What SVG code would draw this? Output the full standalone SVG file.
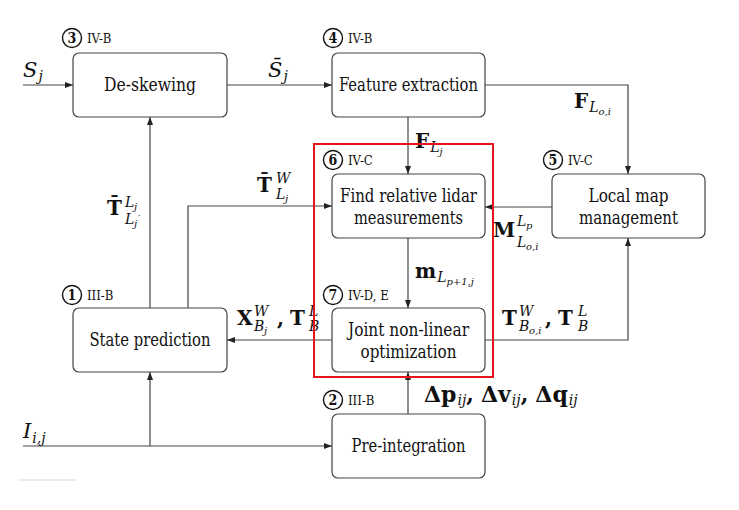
<svg xmlns="http://www.w3.org/2000/svg" width="739" height="510" viewBox="0 0 739 510">
<defs>
<marker id="ah" viewBox="0 0 8 6" refX="8" refY="3" markerWidth="8" markerHeight="6" markerUnits="userSpaceOnUse" orient="auto">
<path d="M0,0 L8,3 L0,6 Z" fill="#222"/>
</marker>
<style>
text{font-family:'DejaVu Serif Condensed','DejaVu Serif',serif;font-stretch:condensed;fill:#111}
.box{fill:#fff;stroke:#444;stroke-width:1.2}
.bt{font-size:18px;text-anchor:middle}
.num{fill:none;stroke:#111;stroke-width:1.4}
.nt{font-size:14px;font-weight:bold;text-anchor:middle}
.sec{font-size:13px}
.c{fill:none;stroke:#444;stroke-width:1.2}
.m,.mi{font-family:'DejaVu Serif',serif;font-stretch:normal}
.m{font-size:20px;font-weight:bold}
.mi{font-size:21px;font-style:italic}
.d{font-size:22px}
.s{font-size:14px;font-style:italic;font-weight:normal}
.ss{font-size:10px;font-style:italic;font-weight:normal}
</style>
</defs>
<rect width="739" height="510" fill="#fff"/>

<g id="connectors">
<path class="c" d="M23,85 H73" marker-end="url(#ah)"/>
<path class="c" d="M227,85 H332" marker-end="url(#ah)"/>
<path class="c" d="M485,85 H628 V174" marker-end="url(#ah)"/>
<path class="c" d="M408,117 V174" marker-end="url(#ah)"/>
<path class="c" d="M552,207 H485" marker-end="url(#ah)"/>
<path class="c" d="M408,238 V308" marker-end="url(#ah)"/>
<path class="c" d="M332,340 H227" marker-end="url(#ah)"/>
<path class="c" d="M485,340 H628 V238" marker-end="url(#ah)"/>
<path class="c" d="M408,414 V372" marker-end="url(#ah)"/>
<path class="c" d="M23,446 H332" marker-end="url(#ah)"/>
<path class="c" d="M150,446 V372" marker-end="url(#ah)"/>
<path class="c" d="M150,308 V117" marker-end="url(#ah)"/>
<path class="c" d="M188,308 V206 H332" marker-end="url(#ah)"/>
</g>

<g id="node-deskew">
<rect class="box" x="73" y="53" width="154" height="64" rx="6"/>
<text class="bt" x="150" y="91" textLength="92" lengthAdjust="spacingAndGlyphs">De-skewing</text>
<circle class="num" cx="72" cy="38" r="9.5"/>
<text class="nt" x="72" y="43">3</text>
<text class="sec" x="87" y="43">IV-B</text>
</g>
<g id="node-feature">
<rect class="box" x="332" y="53" width="153" height="64" rx="6"/>
<text class="bt" x="408.5" y="91" textLength="139" lengthAdjust="spacingAndGlyphs">Feature extraction</text>
<circle class="num" cx="333" cy="38" r="9.5"/>
<text class="nt" x="333" y="43">4</text>
<text class="sec" x="348" y="43">IV-B</text>
</g>
<g id="node-find">
<rect class="box" x="332" y="174" width="153" height="64" rx="6"/>
<text class="bt" x="408.5" y="202" textLength="137" lengthAdjust="spacingAndGlyphs">Find relative lidar</text>
<text class="bt" x="408.5" y="224" textLength="109" lengthAdjust="spacingAndGlyphs">measurements</text>
<circle class="num" cx="333" cy="160" r="9.5"/>
<text class="nt" x="333" y="165">6</text>
<text class="sec" x="348" y="165">IV-C</text>
</g>
<g id="node-localmap">
<rect class="box" x="552" y="174" width="153" height="64" rx="6"/>
<text class="bt" x="628.5" y="202" textLength="80" lengthAdjust="spacingAndGlyphs">Local map</text>
<text class="bt" x="628.5" y="224" textLength="99" lengthAdjust="spacingAndGlyphs">management</text>
<circle class="num" cx="553" cy="160" r="9.5"/>
<text class="nt" x="553" y="165">5</text>
<text class="sec" x="568" y="165">IV-C</text>
</g>
<g id="node-state">
<rect class="box" x="73" y="308" width="154" height="64" rx="6"/>
<text class="bt" x="150" y="346" textLength="121" lengthAdjust="spacingAndGlyphs">State prediction</text>
<circle class="num" cx="72" cy="295" r="9.5"/>
<text class="nt" x="72" y="300">1</text>
<text class="sec" x="87" y="300">III-B</text>
</g>
<g id="node-joint">
<rect class="box" x="332" y="308" width="153" height="64" rx="6"/>
<text class="bt" x="408.5" y="336" textLength="121" lengthAdjust="spacingAndGlyphs">Joint non-linear</text>
<text class="bt" x="408.5" y="358" textLength="96" lengthAdjust="spacingAndGlyphs">optimization</text>
<circle class="num" cx="333" cy="295" r="9.5"/>
<text class="nt" x="333" y="300">7</text>
<text class="sec" x="348" y="300">IV-D, E</text>
</g>
<g id="node-preint">
<rect class="box" x="332" y="414" width="153" height="64" rx="6"/>
<text class="bt" x="408.5" y="452" textLength="114" lengthAdjust="spacingAndGlyphs">Pre-integration</text>
<circle class="num" cx="333" cy="400" r="9.5"/>
<text class="nt" x="333" y="405">2</text>
<text class="sec" x="348" y="405">III-B</text>
</g>

<g id="labels">
<text class="mi" x="23" y="77">S<tspan class="s" dx="1" dy="4">j</tspan></text>
<text class="mi" x="268" y="77">S̄<tspan class="s" dx="1" dy="4">j</tspan></text>
<text class="m" x="574" y="108">F<tspan class="s" dx="1" dy="4">L</tspan><tspan class="ss" dy="3">o,i</tspan></text>
<text class="m" x="415" y="148">F<tspan class="s" dx="1" dy="4">L</tspan><tspan class="ss" dy="3">j</tspan></text>
<text class="m" x="493" y="237">M<tspan class="s" x="517" y="226">L</tspan><tspan class="ss" x="526" y="229">p</tspan><tspan class="s" x="517" y="247">L</tspan><tspan class="ss" x="526" y="250">o,i</tspan></text>
<text class="m" x="257" y="192">T̄<tspan class="s" x="276" y="183">W</tspan><tspan class="s" x="276" y="199">L</tspan><tspan class="ss" x="285" y="202">j</tspan></text>
<text class="m" x="107" y="215">T̄<tspan class="s" x="125" y="207">L</tspan><tspan class="ss" x="134" y="210">j</tspan><tspan class="s" x="125" y="224">L</tspan><tspan class="ss" x="134" y="227">j</tspan><tspan class="ss" x="138" y="222">′</tspan></text>
<text class="m" x="237" y="325">X<tspan class="s" x="254" y="316">W</tspan><tspan class="s" x="254" y="331">B</tspan><tspan class="ss" x="264" y="334">j</tspan><tspan x="277" y="325">,</tspan><tspan x="290" y="325">T</tspan><tspan class="s" x="309" y="316">L</tspan><tspan class="s" x="309" y="331">B</tspan></text>
<text class="m" x="502" y="325">T<tspan class="s" x="519" y="316">W</tspan><tspan class="s" x="519" y="331">B</tspan><tspan class="ss" x="529" y="334">o,i</tspan><tspan x="545" y="325">,</tspan><tspan x="558" y="325">T</tspan><tspan class="s" x="578" y="316">L</tspan><tspan class="s" x="578" y="331">B</tspan></text>
<text class="m" x="415" y="278">m<tspan class="s" dx="1" dy="4">L</tspan><tspan class="ss" dy="3">p+1,j</tspan></text>
<text class="m d" x="424" y="402">Δp<tspan class="s" dx="1" dy="3">ij</tspan><tspan dy="-3">,</tspan><tspan dx="7">Δv</tspan><tspan class="s" dx="1" dy="3">ij</tspan><tspan dy="-3">,</tspan><tspan dx="7">Δq</tspan><tspan class="s" dx="1" dy="3">ij</tspan></text>
<text class="mi" x="23" y="438">I<tspan class="s" dx="1" dy="5">i,j</tspan></text>
</g>

<rect x="314" y="144" width="179" height="233" fill="none" stroke="#e8141b" stroke-width="2"/>
<line x1="18" y1="480" x2="77" y2="480" stroke="#d8d8d8" stroke-width="1"/>
</svg>
